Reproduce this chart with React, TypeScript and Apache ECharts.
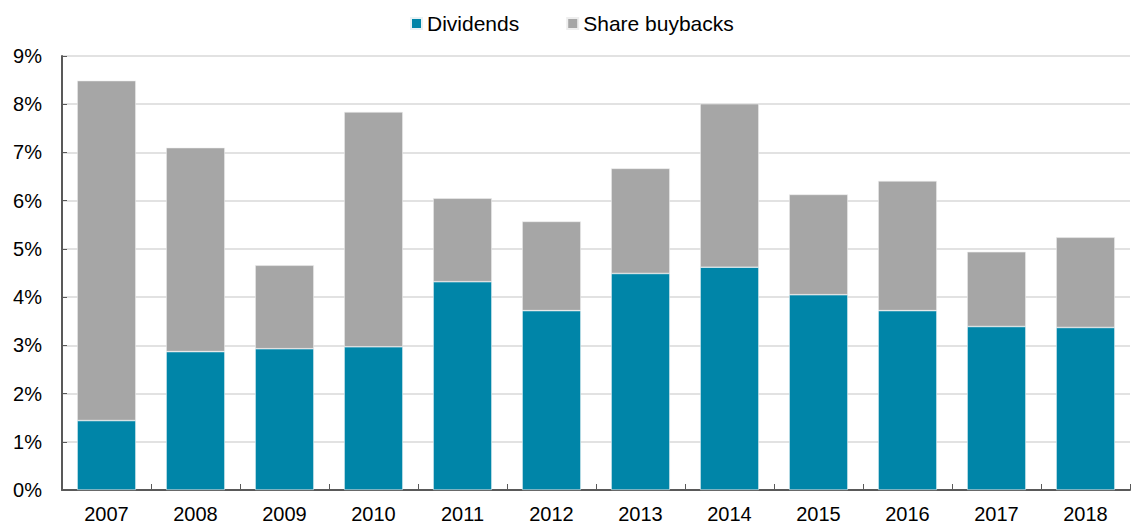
import React, { useEffect, useRef } from "react";
import * as echarts from "echarts";

const years = ["2007", "2008", "2009", "2010", "2011", "2012", "2013", "2014", "2015", "2016", "2017", "2018"];
const dividends = [1.44, 2.87, 2.93, 2.97, 4.32, 3.72, 4.49, 4.62, 4.05, 3.72, 3.39, 3.37];
const totals = [8.49, 7.1, 4.66, 7.84, 6.05, 5.57, 6.67, 8.01, 6.13, 6.41, 4.94, 5.24];
const buybacks = totals.map((t, i) => Math.round((t - dividends[i]) * 100) / 100);
const yTicks = [0, 1, 2, 3, 4, 5, 6, 7, 8, 9];

export default function App() {
  const ref = useRef<HTMLDivElement>(null);
  useEffect(() => {
    const chart = echarts.init(ref.current!, undefined, { renderer: "svg" });
    const font = "Liberation Sans, Arial, sans-serif";
    chart.setOption({
      animation: false,
      textStyle: { fontFamily: font },
      legend: {
        top: 8,
        left: 405,
        itemWidth: 11,
        itemHeight: 11,
        itemGap: 47,
        icon: "rect",
        textStyle: { fontSize: 21, color: "#000", fontFamily: font },
        data: ["Dividends", "Share buybacks"],
      },
      grid: { left: 62, right: 5, top: 56, bottom: 36, containLabel: false },
      xAxis: {
        type: "category",
        data: years,
        axisLine: { lineStyle: { color: "#595959", width: 2 } },
        axisTick: { show: true, inside: true, length: 6, lineStyle: { color: "#595959" } },
        axisLabel: { fontSize: 20, color: "#000", margin: 14, fontFamily: font },
      },
      yAxis: {
        type: "value",
        min: 0,
        max: 9,
        interval: 1,
        axisLine: { show: true, lineStyle: { color: "#595959", width: 2 } },
        axisTick: { show: true, inside: true, length: 5, lineStyle: { color: "#595959" } },
        axisLabel: {
          fontSize: 20,
          color: "#000",
          margin: 20,
          fontFamily: font,
          formatter: (v: number) => (yTicks.includes(v) ? v + "%" : ""),
        },
        splitLine: { lineStyle: { color: "#d9d9d9", width: 1.5 } },
      },
      series: [
        {
          name: "Dividends",
          type: "bar",
          stack: "total",
          data: dividends,
          barWidth: "66%",
          itemStyle: { color: "#0085A8", borderColor: "#e8f2f5", borderWidth: 0.6 },
        },
        {
          name: "Share buybacks",
          type: "bar",
          stack: "total",
          data: buybacks,
          barWidth: "66%",
          itemStyle: { color: "#A6A6A6", borderColor: "#eeeeee", borderWidth: 0.6 },
        },
      ],
    });
    return () => chart.dispose();
  }, []);
  return <div ref={ref} style={{ width: 1135, height: 526, position: "absolute", left: 0, top: 0, background: "#fff" }} />;
}
